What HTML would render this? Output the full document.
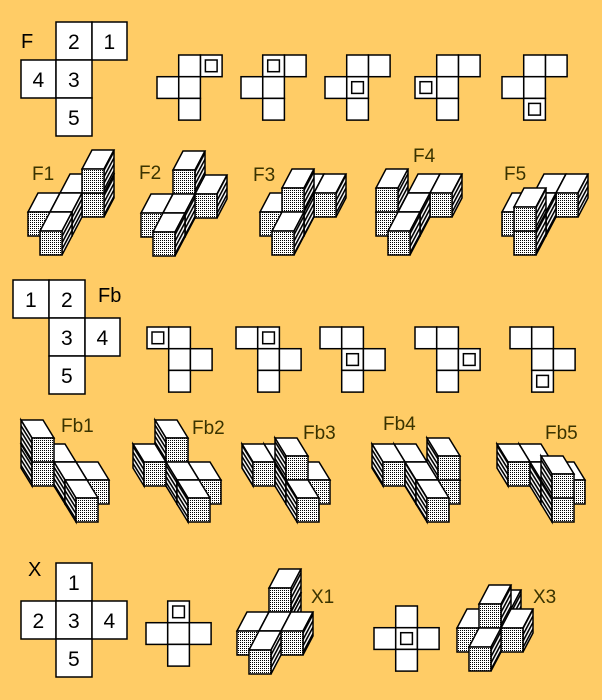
<!DOCTYPE html>
<html><head><meta charset="utf-8"><style>
html,body{margin:0;padding:0;background:#ffcc66;}
svg{display:block;}
text{font-family:"Liberation Sans",sans-serif;}
</style></head><body>
<svg id="s" width="602" height="700" xmlns="http://www.w3.org/2000/svg">
<defs>
<pattern id="dot" width="2" height="2" patternUnits="userSpaceOnUse"><rect width="2" height="2" fill="#fff"/><rect width="1" height="1" fill="#000"/></pattern>
<pattern id="hr" width="3" height="3" patternUnits="userSpaceOnUse" patternTransform="rotate(-62)"><rect width="3" height="3" fill="#fff"/><rect width="3" height="1.6" fill="#000"/></pattern>
<pattern id="hl" width="3" height="3" patternUnits="userSpaceOnUse" patternTransform="rotate(58)"><rect width="3" height="3" fill="#fff"/><rect width="3" height="1.6" fill="#000"/></pattern>
</defs>
<rect width="602" height="700" fill="#ffcc66"/>
<g id="g" stroke="#000" stroke-width="1.5" stroke-linejoin="miter"></g>
<g id="t" font-size="19" fill="#3a3300"></g>
</svg>
<script>
var g=document.getElementById('g'),t=document.getElementById('t');
var NS='http://www.w3.org/2000/svg';
function el(n,a,p){var e=document.createElementNS(NS,n);for(var k in a)e.setAttribute(k,a[k]);(p||g).appendChild(e);return e;}
function txt(x,y,s,c,fs){var e=el('text',{x:x,y:y,stroke:'none'},t);if(c)e.setAttribute('fill',c);if(fs)e.setAttribute('font-size',fs);e.textContent=s;}
var B='#000';
function bigNet(xs,ys,cells){cells.forEach(function(c){var x=xs[c[0]],y=ys[c[1]],w=xs[c[0]+1]-x,h=ys[c[1]+1]-y;
el('rect',{x:x,y:y,width:w,height:h,fill:'#fff'});txt(x+w/2-6,y+h/2+8,c[2],B,21);});}
bigNet([21,56,92,127],[22,60,98,136],[[1,0,'2'],[2,0,'1'],[0,1,'4'],[1,1,'3'],[1,2,'5']]);
bigNet([13,49,85,120],[280,318,356,394],[[0,0,'1'],[1,0,'2'],[1,1,'3'],[2,1,'4'],[1,2,'5']]);
bigNet([21,56,92,127],[563,601,639,677],[[1,0,'1'],[0,1,'2'],[1,1,'3'],[2,1,'4'],[1,2,'5']]);
function smallNet(x0,y0,cells,m){var s=21.7;cells.forEach(function(c,i){var x=x0+c[0]*s,y=y0+c[1]*s;
el('rect',{x:x,y:y,width:s,height:s,fill:'#fff'});if(i==m)el('rect',{x:x+5,y:y+5,width:s-10,height:s-10,fill:'#fff'});});}
var FN=[[2,0],[1,0],[1,1],[0,1],[1,2]];
[157,241,325,415,502].forEach(function(x,i){smallNet(x,55,FN,i);});
var FBN=[[0,0],[1,0],[1,1],[2,1],[1,2]];
[147,236,320,415,510].forEach(function(x,i){smallNet(x,327,FBN,i);});
var XN=[[1,0],[0,1],[1,1],[2,1],[1,2]];
smallNet(146,601,XN,0);smallNet(374,606,XN,2);
function shape(ox,oy,cubes,mir){
var S=22,H=24,dx=mir?-11:10,dy=mir?18:19;
cubes=cubes.slice().sort(function(a,b){return b[2]-a[2]||a[1]-b[1]||(mir?b[0]-a[0]:a[0]-b[0]);});
cubes.forEach(function(c){var sx=ox+S*c[0]+dx*c[2],sy=oy-H*c[1]-dy*c[2];
el('polygon',{points:[sx,sy,sx+S,sy,sx+S+dx,sy-dy,sx+dx,sy-dy].join(' '),fill:'#fff'});
if(mir)el('polygon',{points:[sx,sy,sx+dx,sy-dy,sx+dx,sy-dy+H,sx,sy+H].join(' '),fill:'url(#hl)'});
else el('polygon',{points:[sx+S,sy,sx+S+dx,sy-dy,sx+S+dx,sy-dy+H,sx+S,sy+H].join(' '),fill:'url(#hr)'});
el('rect',{x:sx,y:sy,width:S,height:H,fill:'url(#dot)'});});}
shape(40,231,[[0,0,0],[-1,0,1],[0,0,1],[0,0,2],[1,0,2],[1,1,2]]);
shape(153,232,[[0,0,0],[-1,0,1],[0,0,1],[0,0,2],[1,0,2],[0,1,2]]);
shape(272,231,[[0,0,0],[-1,0,1],[0,0,1],[0,1,1],[0,0,2],[1,0,2]]);
shape(388,231,[[0,0,0],[-1,0,1],[-1,1,1],[0,0,1],[0,0,2],[1,0,2]]);
shape(514,231,[[0,0,0],[0,1,0],[-1,0,1],[0,0,1],[0,0,2],[1,0,2]]);
shape(76,498,[[0,0,0],[0,0,1],[1,0,1],[0,0,2],[-1,0,2],[-1,1,2]],1);
shape(188,498,[[0,0,0],[0,0,1],[1,0,1],[0,0,2],[-1,0,2],[0,1,2]],1);
shape(297,498,[[0,0,0],[0,0,1],[0,1,1],[1,0,1],[0,0,2],[-1,0,2]],1);
shape(427,498,[[0,0,0],[0,0,1],[1,0,1],[1,1,1],[0,0,2],[-1,0,2]],1);
shape(552,498,[[0,0,0],[0,1,0],[0,0,1],[1,0,1],[0,0,2],[-1,0,2]],1);
shape(249,650,[[0,0,0],[-1,0,1],[0,0,1],[1,0,1],[0,0,2],[0,1,2]]);
shape(469,647,[[0,0,0],[-1,0,1],[0,0,1],[1,0,1],[0,1,1],[0,0,2]]);
txt(21,48,'F',B,20);txt(98,302,'Fb',B,20);txt(28,576,'X',B,20);
[[32,180,'F1'],[139,179,'F2'],[253,181,'F3'],[413,162,'F4'],[504,180,'F5'],
[61,432,'Fb1'],[192,434,'Fb2'],[303,439,'Fb3'],[383,430,'Fb4'],[545,439,'Fb5'],
[311,603,'X1'],[533,603,'X3']].forEach(function(l){txt(l[0],l[1],l[2]);});
</script>
</body></html>
